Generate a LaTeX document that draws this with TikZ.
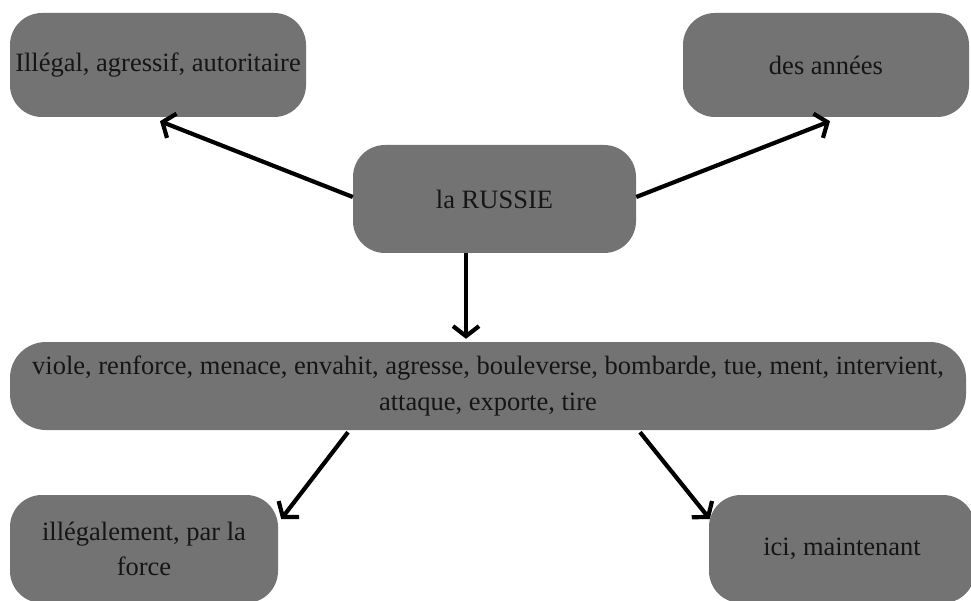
\documentclass[tikz,border=0pt]{standalone}
\usepackage{fontspec}
\setmainfont{Liberation Serif}
\usetikzlibrary{arrows.meta}
\definecolor{boxgray}{HTML}{737373}
\definecolor{ink}{HTML}{151515}
\begin{document}
\begin{tikzpicture}[x=1pt,y=-1pt,
  termbox/.style={fill=boxgray, rounded corners=32pt, inner sep=0pt,
    text=ink, align=center, font=\fontsize{26.5}{35.5}\selectfont},
  link/.style={line width=4.2pt, -{Straight Barb[length=10pt,width=26pt,line width=4.2pt]}}]
\useasboundingbox (0,0) rectangle (971,601);
\fill[white] (0,0) rectangle (971,601);

\node[termbox, minimum width=296pt, minimum height=104pt] (adj) at (158,65) {Illégal, agressif, autoritaire};
\node[termbox, minimum width=286pt, minimum height=104pt] (time) at (826,65) {des années};
\node[termbox, minimum width=283pt, minimum height=108pt] (russie) at (494.5,199) {la RUSSIE};
\node[termbox, minimum width=956pt, minimum height=88pt, rounded corners=36pt] (verbs) at (488,386)
  {viole, renforce, menace, envahit, agresse, bouleverse, bombarde, tue, ment, intervient,\\attaque, exporte, tire};
\node[termbox, minimum width=268pt, minimum height=108pt] (manner) at (144,549) {illégalement, par la\\force};
\node[termbox, minimum width=266pt, minimum height=108pt] (place) at (842,549) {ici, maintenant};

\draw[link] ([yshift=2pt]russie.west) -- ([xshift=2pt,yshift=-4pt]adj.south);
\draw[link] ([yshift=2pt]russie.east) -- ([xshift=4pt,yshift=-4pt]time.south);
\draw[link] ([xshift=-28.5pt]russie.south) -- ([xshift=-22pt,yshift=3pt]verbs.north);
\draw[link] ([xshift=-140pt,yshift=-2pt]verbs.south) -- ([xshift=3pt,yshift=30pt]manner.east);
\draw[link] ([xshift=152pt,yshift=-2pt]verbs.south) -- ([xshift=1pt,yshift=30pt]place.west);
\end{tikzpicture}
\end{document}
